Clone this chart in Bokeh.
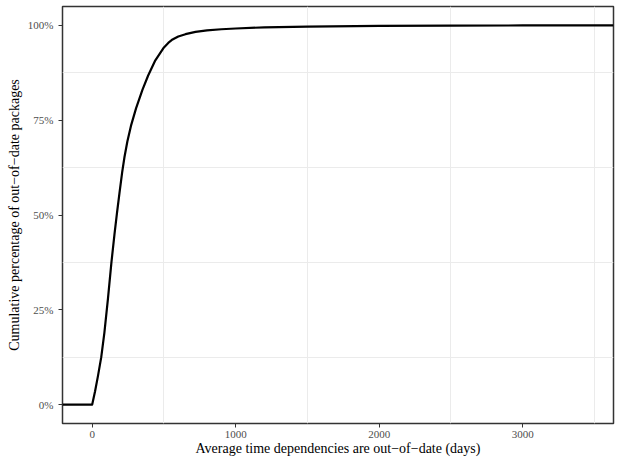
from bokeh.plotting import figure
from bokeh.models import Range1d, FixedTicker, NumeralTickFormatter
from bokeh.embed import file_html
from bokeh.resources import INLINE

days = [0, 20, 40, 63, 85, 110, 134, 155, 173, 190, 209, 225, 245, 270, 306,
        350, 390, 440, 500, 530, 560, 600, 650, 720, 800, 900, 1000, 1200,
        1500, 2000, 2500, 3000, 3490]
cum_share = [0.0, 0.035, 0.075, 0.125, 0.19, 0.28, 0.375, 0.448, 0.506, 0.558,
             0.613, 0.653, 0.694, 0.735, 0.782, 0.83, 0.868, 0.908, 0.942,
             0.954, 0.963, 0.971, 0.977, 0.983, 0.987, 0.990, 0.992, 0.995,
             0.997, 0.999, 0.9995, 1.0, 1.0]

x_ticks = [0, 1000, 2000, 3000]
x_grid = [500, 1500, 2500, 3500]
y_ticks = [0, 0.25, 0.5, 0.75, 1.0]
y_grid = [0.125, 0.375, 0.625, 0.875]

X_START, X_END = -207, 3633

FONT = "Liberation Serif"

p = figure(width=618, height=460, output_backend="svg", toolbar_location=None,
           x_range=Range1d(X_START, X_END), y_range=Range1d(-0.05, 1.05),
           min_border_left=62, min_border_right=5, min_border_top=6,
           min_border_bottom=37)

p.background_fill_color = "white"
p.border_fill_color = "white"
p.outline_line_color = "#333333"
p.outline_line_width = 1.5

# pad like stat_ecdf: -Inf -> 0, +Inf -> 1
xs = [X_START] + days + [X_END]
ys = [0.0] + cum_share + [1.0]
p.line(xs, ys, line_color="black", line_width=2.2, line_join="round")

p.xaxis.ticker = FixedTicker(ticks=x_ticks)
p.yaxis.ticker = FixedTicker(ticks=y_ticks)
p.yaxis.formatter = NumeralTickFormatter(format="0%")

p.xgrid.ticker = FixedTicker(ticks=x_grid)
p.ygrid.ticker = FixedTicker(ticks=y_grid)
for g in (p.xgrid, p.ygrid):
    g.grid_line_color = "#ebebeb"
    g.grid_line_width = 1

for ax in (p.xaxis, p.yaxis):
    ax.axis_line_color = None
    ax.major_tick_line_color = "#333333"
    ax.major_tick_line_width = 1
    ax.major_tick_in = 0
    ax.major_tick_out = 4
    ax.minor_tick_line_color = None
    ax.major_label_text_font = FONT
    ax.major_label_text_font_size = "11px"
    ax.major_label_text_color = "#4d4d4d"
    ax.axis_label_text_font = FONT
    ax.axis_label_text_font_size = "14px"
    ax.axis_label_text_font_style = "normal"
    ax.axis_label_text_color = "black"

p.xaxis.major_label_standoff = 3
p.yaxis.major_label_standoff = 5
p.xaxis.axis_label_standoff = 0
p.yaxis.axis_label_standoff = 3

p.xaxis.axis_label = "Average time dependencies are out\u2212of\u2212date (days)"
p.yaxis.axis_label = "Cumulative percentage of out\u2212of\u2212date packages"

open("out.html", "w").write(file_html(p, INLINE))
